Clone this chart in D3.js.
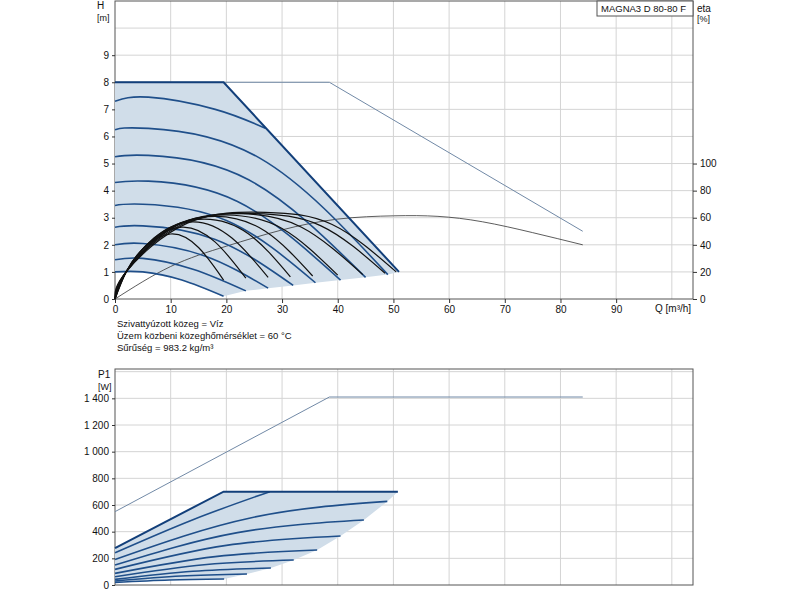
<!DOCTYPE html>
<html><head><meta charset="utf-8">
<script src="https://cdn.jsdelivr.net/npm/d3@7"></script>
<style>body{margin:0;background:#fff}text{font-family:"Liberation Sans",Arial,sans-serif;fill:#111}</style>
</head><body><svg id="c" width="800" height="600"></svg>
<script>
// head curves per speed [Q, H]
var hCurves = [
  [[0,1.0],[5,1.0],[12,0.7],[19.5,0.1]],
  [[0,1.45],[5,1.5],[14,1.1],[23.5,0.3]],
  [[0,2.0],[5,2.05],[16,1.6],[27.5,0.4]],
  [[0,2.65],[5,2.7],[18,2.2],[32,0.5]],
  [[0,3.45],[5,3.5],[20,2.9],[36,0.6]],
  [[0,4.3],[6,4.35],[22,3.6],[40.5,0.7]],
  [[0,5.25],[6,5.3],[24,4.4],[45,0.8]],
  [[0,6.25],[6,6.3],[26,5.2],[49,0.9]],
  [[0,7.3],[6,7.45],[18,7.0],[27,6.3]]
];
var hMax = [[0,8],[19.5,8],[51,1]];
var hMaxOther = [[0,8],[38.5,8],[84,2.5]];
// efficiency curves, plotted on H scale (eta/20)
var etaCurves = [
  [[0,0],[2,1.0],[5,1.85],[10,2.4],[15,1.9],[19.5,0.7]],
  [[0,0],[2,1.0],[6,2.05],[12,2.65],[18,2.1],[23.5,0.77]],
  [[0,0],[2,1.0],[7,2.25],[14,2.85],[21,2.25],[27.5,0.8]],
  [[0,0],[2,1.0],[8,2.4],[16,2.95],[24,2.4],[31.5,0.82]],
  [[0,0],[2,1.0],[9,2.5],[18,3.05],[27,2.5],[35.5,0.85]],
  [[0,0],[2,1.0],[10,2.6],[20,3.1],[30,2.6],[40,0.88]],
  [[0,0],[2,1.0],[11,2.7],[22.5,3.15],[33.5,2.65],[44.5,0.9]],
  [[0,0],[2,1.0],[12,2.75],[25,3.15],[37,2.7],[48.5,0.95]],
  [[0,0],[2,1.0],[13,2.8],[27,3.2],[39,2.75],[50.5,1.0]]
];
var etaMaxLine = [[0,0],[10,1.2],[20,1.95],[30,2.55],[40,2.95],[50,3.07],[58,3.05],[66,2.85],[75,2.45],[84,2.0]];
// power curves [Q, P1 W]
var pCurves = [
  [[0,20],[9.8,38],[19.6,45]],
  [[0,30],[11.9,67],[23.7,82]],
  [[0,42],[14,103],[28,127]],
  [[0,62],[16,152],[32.1,187]],
  [[0,87],[18,213],[36.3,262]],
  [[0,117],[20,297],[40.5,367]],
  [[0,150],[22,393],[44.7,487]],
  [[0,192],[24.5,505],[48.9,627]],
  [[0,242],[14,490],[27.8,700]]
];
var pMax = [[0,277],[19.5,700],[50.8,700]];
var pMaxOther = [[0,550],[38.5,1410],[84,1410]];
var qTicks = [0,10,20,30,40,50,60,70,80,90];
var hTicks = [0,1,2,3,4,5,6,7,8,9];
var etaTicks = [0,20,40,60,80,100];
var pTicks = [0,200,400,600,800,1000,1200,1400];
var notes = ["Szivattyúzott közeg = Víz","Üzem közbeni közeghőmérséklet = 60 °C","Sűrűség = 983.2 kg/m³"];

var svg = d3.select("#c");
var x = d3.scaleLinear().domain([0,103.8]).range([115,693]);
var yH = d3.scaleLinear().domain([0,11]).range([299,1]);
var yE = d3.scaleLinear().domain([0,220]).range([299,1]);
var yP = d3.scaleLinear().domain([0,1620]).range([585,369]);
var grid = "#d4d4d4", blue = "#1f4f8a", fill = "#d0dde9";

function panel(y, top, bottom, ygrid) {
  var g = svg.append("g");
  d3.range(10,104,10).forEach(function(q){
    g.append("line").attr("x1",x(q)).attr("x2",x(q)).attr("y1",top).attr("y2",bottom).attr("stroke",grid);
  });
  ygrid.forEach(function(v){
    g.append("line").attr("x1",115).attr("x2",693).attr("y1",y(v)).attr("y2",y(v)).attr("stroke",grid);
  });
  g.append("rect").attr("x",115).attr("y",top).attr("width",578).attr("height",bottom-top)
    .attr("fill","none").attr("stroke","#555");
}
panel(yH, 1, 299, d3.range(1,11));
panel(yP, 369, 585, d3.range(200,1601,200));

var lineH = d3.line().x(function(d){return x(d[0]);}).y(function(d){return yH(d[1]);}).curve(d3.curveNatural);
var lineHl = d3.line().x(function(d){return x(d[0]);}).y(function(d){return yH(d[1]);});
var lineP = d3.line().x(function(d){return x(d[0]);}).y(function(d){return yP(d[1]);}).curve(d3.curveNatural);
var linePl = d3.line().x(function(d){return x(d[0]);}).y(function(d){return yP(d[1]);});

// shaded regions
var hPoly = hMax.concat(hCurves.slice(0,8).map(function(c){return c[c.length-1];}).reverse(), hCurves[0].slice(0,3).reverse());
svg.append("path").attr("d",lineHl(hPoly)+"Z").attr("fill",fill);
var pPoly = pMax.concat(pCurves.slice(0,8).map(function(c){return c[c.length-1];}).reverse(), [pCurves[0][1],pCurves[0][0]]);
svg.append("path").attr("d",linePl(pPoly)+"Z").attr("fill",fill);

// top panel lines
svg.append("path").attr("d",lineHl(hMaxOther)).attr("fill","none").attr("stroke","#7189a6").attr("stroke-width",1);
svg.append("path").attr("d",lineH(etaMaxLine)).attr("fill","none").attr("stroke","#333").attr("stroke-width",0.8);
hCurves.forEach(function(c){
  svg.append("path").attr("d",lineH(c)).attr("fill","none").attr("stroke",blue).attr("stroke-width",1.6);
});
svg.append("path").attr("d",lineHl(hMax)).attr("fill","none").attr("stroke","#123f7a").attr("stroke-width",2);
etaCurves.forEach(function(c){
  svg.append("path").attr("d",lineH(c)).attr("fill","none").attr("stroke","#111").attr("stroke-width",1.2);
});

// bottom panel lines
svg.append("path").attr("d",linePl(pMaxOther)).attr("fill","none").attr("stroke","#7189a6").attr("stroke-width",1);
pCurves.forEach(function(c){
  svg.append("path").attr("d",lineP(c)).attr("fill","none").attr("stroke",blue).attr("stroke-width",1.6);
});
svg.append("path").attr("d",linePl(pMax)).attr("fill","none").attr("stroke","#123f7a").attr("stroke-width",2);

// axes
var fmt = function(v){return d3.format(",")(v).replace(/,/g," ");};
var ax = svg.append("g").attr("transform","translate(0,299)").call(d3.axisBottom(x).tickValues(qTicks).tickSize(4));
var ah = svg.append("g").attr("transform","translate(115,0)").call(d3.axisLeft(yH).tickValues(hTicks).tickSize(3));
var ae = svg.append("g").attr("transform","translate(693,0)").call(d3.axisRight(yE).tickValues(etaTicks).tickSize(4));
var ap = svg.append("g").attr("transform","translate(115,0)").call(d3.axisLeft(yP).tickValues(pTicks).tickFormat(fmt).tickSize(3));
[ax,ah,ae,ap].forEach(function(a){
  a.select(".domain").remove();
  a.selectAll("text").attr("font-size",10).attr("fill","#111");
  a.selectAll("line").attr("stroke","#333");
});

svg.append("text").attr("x",97).attr("y",9).attr("font-size",10).text("H");
svg.append("text").attr("x",97).attr("y",21).attr("font-size",9).text("[m]");
svg.append("text").attr("x",697).attr("y",12).attr("font-size",10).text("eta");
svg.append("text").attr("x",697).attr("y",22).attr("font-size",9).text("[%]");
svg.append("text").attr("x",655).attr("y",312).attr("font-size",10).text("Q [m³/h]");
svg.append("text").attr("x",98).attr("y",378).attr("font-size",10).text("P1");
svg.append("text").attr("x",98).attr("y",390).attr("font-size",9).text("[W]");
svg.append("rect").attr("x",597).attr("y",1).attr("width",96).attr("height",15).attr("fill","#fff").attr("stroke","#555");
svg.append("text").attr("x",601).attr("y",12).attr("font-size",9.5).text("MAGNA3 D 80-80 F");
notes.forEach(function(t,i){
  svg.append("text").attr("x",117).attr("y",327+i*12).attr("font-size",9.5).text(t);
});
</script></body></html>
